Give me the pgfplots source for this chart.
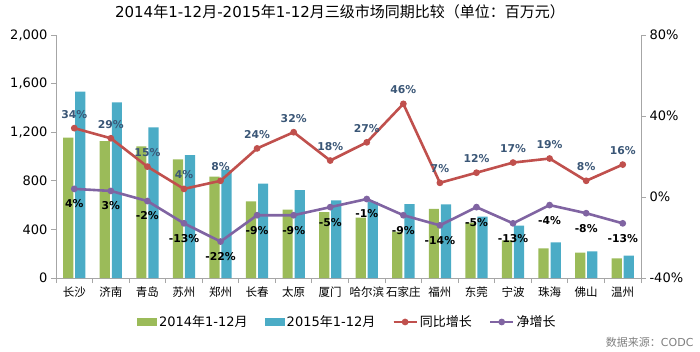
\documentclass[border=0pt]{standalone}
\usepackage{fontspec}
\setmainfont{DejaVu Sans}
\newfontfamily\cjk{Noto Sans CJK SC}
\usepackage{pgfplots}
\pgfplotsset{compat=1.18}
\definecolor{cgreen}{HTML}{9BBB59}
\definecolor{cblue}{HTML}{4BACC6}
\definecolor{cred}{HTML}{C0504D}
\definecolor{cpurple}{HTML}{8064A2}
\definecolor{axgray}{HTML}{A6A6A6}
\definecolor{lblblue}{HTML}{3A5676}
\pgfplotsset{
  barleg/.style={legend image code/.code={\fill[##1] (0pt,-4pt) rectangle (20pt,4pt);}},
  lineleg/.style={legend image code/.code={\draw[##1] (0pt,0pt) -- (23pt,0pt); \draw[##1, mark repeat=2, mark phase=2] plot coordinates {(0pt,0pt) (11.5pt,0pt) (23pt,0pt)};}},
}
\begin{document}
\begin{tikzpicture}[x=1pt,y=1pt]
\path (-56,-73) rectangle (644,278);
\begin{axis}[at={(0,0)}, anchor=south west, scale only axis,
  width=585pt, height=243pt,
  xmin=-0.5, xmax=15.5, ymin=0, ymax=2000,
  axis x line*=bottom, axis y line*=left,
  axis line style={-, draw=axgray, line width=0.9pt},
  tick align=outside, major tick length=5pt, minor tick length=5pt,
  tick style={draw=axgray, line width=0.9pt},
  xtick={0,...,15},
  xticklabels={长沙,济南,青岛,苏州,郑州,长春,太原,厦门,哈尔滨,石家庄,福州,东莞,宁波,珠海,佛山,温州},
  xticklabel style={font=\cjk\fontsize{11.5}{11.5}\selectfont},
  major x tick style={draw=none},
  minor xtick={-0.5,0.5,...,15.5},
  ytick={0,400,800,1200,1600,2000},
  yticklabels={0,400,800,{1,200},{1,600},{2,000}},
  yticklabel style={font=\fontsize{13}{13}\selectfont},
]
\addplot[ybar, bar width=0.28, bar shift=-0.165, fill=cgreen, draw=none] coordinates {
(0,1155) (1,1127) (2,1084) (3,977) (4,834) (5,631) (6,562) (7,543)
(8,496) (9,381) (10,568) (11,455) (12,310) (13,244) (14,208) (15,162)};
\addplot[ybar, bar width=0.28, bar shift=0.165, fill=cblue, draw=none] coordinates {
(0,1533) (1,1446) (2,1240) (3,1012) (4,889) (5,776) (6,724) (7,639)
(8,626) (9,609) (10,606) (11,505) (12,431) (13,294) (14,219) (15,184)};
\end{axis}
\begin{axis}[at={(0,0)}, anchor=south west, scale only axis,
  width=585pt, height=243pt,
  xmin=-0.5, xmax=15.5, ymin=-40, ymax=80,
  axis x line=none, axis y line*=right,
  axis line style={-, draw=axgray, line width=0.9pt},
  tick align=outside, major tick length=5pt,
  tick style={draw=axgray, line width=0.9pt},
  ytick={-40,0,40,80},
  yticklabels={-40\%,0\%,40\%,80\%},
  yticklabel style={font=\fontsize{13}{13}\selectfont},
  legend columns=4,
  legend style={draw=none, fill=none, at={(0.498,-0.181)}, anchor=center,
    font=\fontsize{13}{13}\selectfont,
    /tikz/every even column/.append style={column sep=15pt}},
]
\addlegendimage{barleg, fill=cgreen, draw=none}
\addlegendentry{2014{\cjk 年}1-12{\cjk 月}}
\addlegendimage{barleg, fill=cblue, draw=none}
\addlegendentry{2015{\cjk 年}1-12{\cjk 月}}
\addplot[cred, line width=2.6pt, mark=*, mark size=2pt, lineleg]
coordinates {(0,34) (1,29) (2,15) (3,4) (4,8) (5,24) (6,32) (7,18)
(8,27) (9,46) (10,7) (11,12) (12,17) (13,19) (14,8) (15,16)};
\addlegendentry{{\cjk 同比增长}}
\addplot[cpurple, line width=2.6pt, mark=*, mark size=2pt, lineleg]
coordinates {(0,4) (1,3) (2,-2) (3,-13) (4,-22) (5,-9) (6,-9) (7,-5)
(8,-1) (9,-9) (10,-14) (11,-5) (12,-13) (13,-4) (14,-8) (15,-13)};
\addlegendentry{{\cjk 净增长}}
\addplot[draw=none, forget plot, point meta=explicit symbolic, nodes near coords,
  every node near coord/.append style={anchor=center, yshift=14pt, text=lblblue,
    font=\bfseries\fontsize{10.8}{10.8}\selectfont}]
coordinates {(0,34)[34\%] (1,29)[29\%] (2,15)[15\%] (3,4)[4\%] (4,8)[8\%] (5,24)[24\%] (6,32)[32\%] (7,18)[18\%]
(8,27)[27\%] (9,46)[46\%] (10,7)[7\%] (11,12)[12\%] (12,17)[17\%] (13,19)[19\%] (14,8)[8\%] (15,16)[16\%]};
\addplot[draw=none, forget plot, point meta=explicit symbolic, nodes near coords,
  every node near coord/.append style={anchor=center, yshift=-15pt, text=black,
    font=\bfseries\fontsize{10.8}{10.8}\selectfont}]
coordinates {(0,4)[4\%] (1,3)[3\%] (2,-2)[-2\%] (3,-13)[-13\%] (4,-22)[-22\%] (5,-9)[-9\%] (6,-9)[-9\%] (7,-5)[-5\%]
(8,-1)[-1\%] (9,-9)[-9\%] (10,-14)[-14\%] (11,-5)[-5\%] (12,-13)[-13\%] (13,-4)[-4\%] (14,-8)[-8\%] (15,-13)[-13\%]};
\end{axis}
\node[font=\fontsize{15}{15}\selectfont] at (284,266) {2014{\cjk 年}1-12{\cjk 月}-2015{\cjk 年}1-12{\cjk 月三级市场同期比较（单位：百万元）}};
\node[anchor=east, text=gray, font=\fontsize{11}{11}\selectfont] at (641,-64) {{\cjk 数据来源：}CODC};
\end{tikzpicture}
\end{document}
